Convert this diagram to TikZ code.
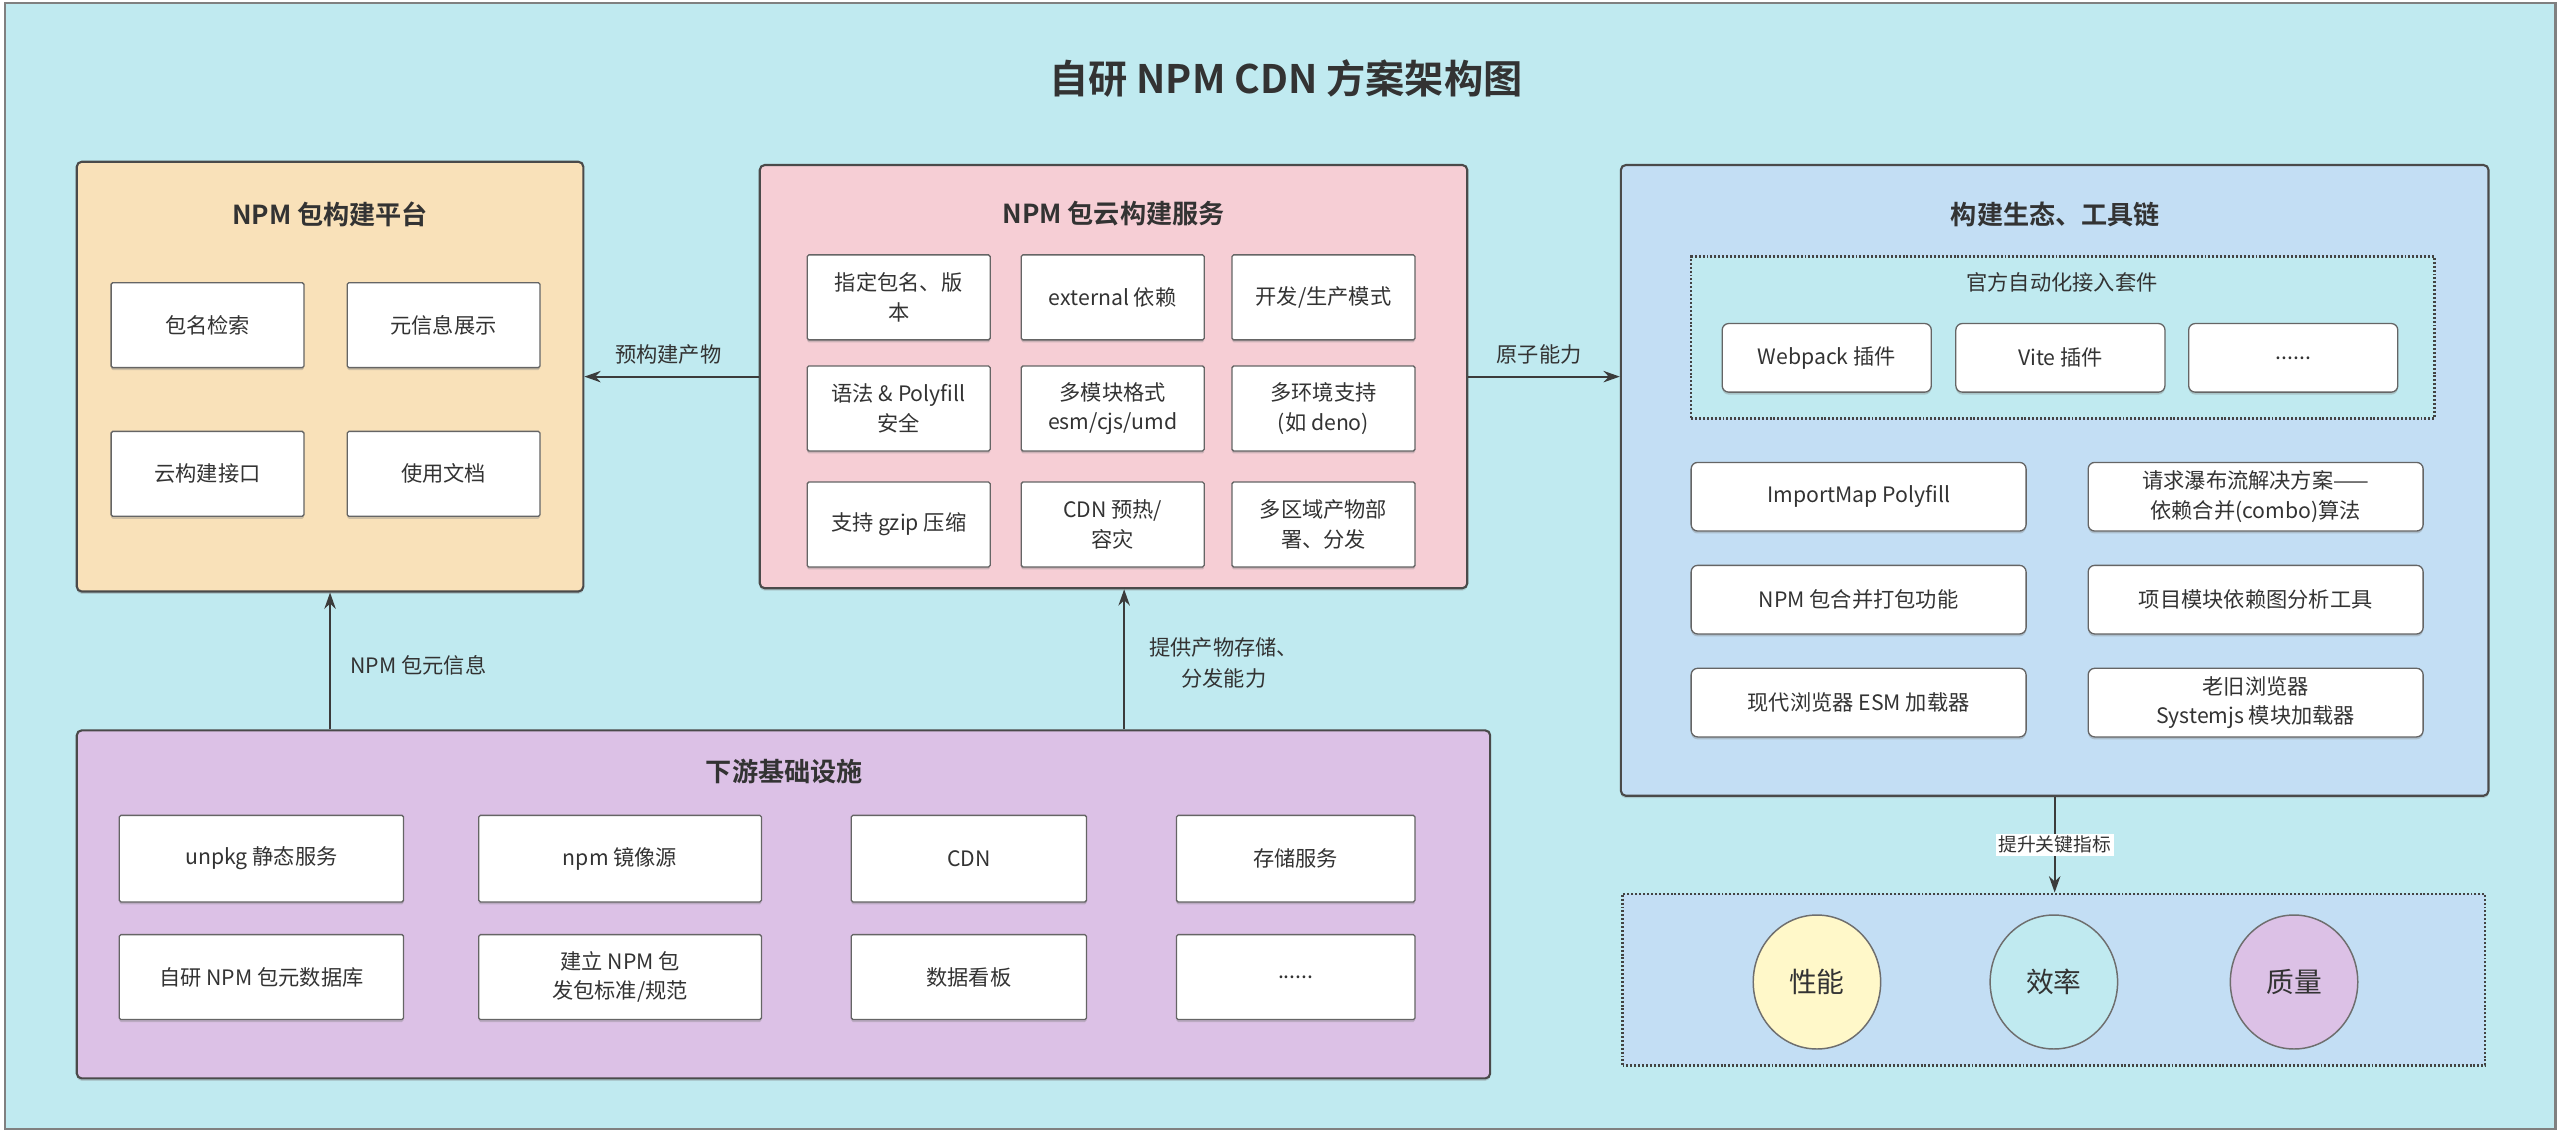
\documentclass[tikz,border=0pt]{standalone}
\usepackage{fontspec}
\setmainfont{Noto Sans CJK SC}[BoldFont={Noto Sans CJK SC Bold}]
\usepackage{tikz}
\usetikzlibrary{shapes.geometric, arrows.meta, positioning, calc, shadows}
\definecolor{SkyBg}{HTML}{C0EAF0}
\definecolor{Sand}{HTML}{F9E1B9}
\definecolor{Blush}{HTML}{F6CED5}
\definecolor{Azure}{HTML}{C3DEF4}
\definecolor{Lilac}{HTML}{DCC1E6}
\definecolor{Cream}{HTML}{FFF8C9}
\definecolor{InkGray}{HTML}{333333}
\definecolor{EdgeGray}{HTML}{4A4A4A}

\tikzset{
  panel/.style={draw=EdgeGray, line width=1.3pt, rounded corners=3pt,
    drop shadow={shadow xshift=0pt, shadow yshift=-1.5pt, opacity=0.3}},
  head/.style={text=InkGray, font=\bfseries\fontsize{16}{20}\selectfont},
  cell/.style={draw=EdgeGray!85, line width=0.8pt, fill=white, rounded corners=1pt,
    align=center, inner sep=2pt, text=InkGray, font=\fontsize{13}{18}\selectfont,
    drop shadow={shadow xshift=0pt, shadow yshift=-1.5pt, opacity=0.35}},
  toolcell/.style={cell, rounded corners=4pt},
  dotbox/.style={draw=EdgeGray!90!black, line width=1.5pt, dash pattern=on 1.2pt off 1.2pt},
  note/.style={text=InkGray, align=center, font=\fontsize{13}{19}\selectfont},
  link/.style={draw=EdgeGray!80!black, line width=1.2pt, -{Stealth[length=10pt,width=7pt]}},
  metric/.style={ellipse, draw=EdgeGray!80, line width=0.9pt, minimum width=78pt,
    minimum height=82pt, text=InkGray, font=\fontsize{17}{20}\selectfont},
}

\begin{document}
\begin{tikzpicture}[x=1pt, y=-1pt]
% canvas and frame
\useasboundingbox (0,0) rectangle (1568,694);
\fill[white] (0,0) rectangle (1568,694);
\draw[fill=SkyBg, draw=gray, line width=1.5pt] (3,2) rectangle (1564,691);

\node[text=InkGray, font=\bfseries\fontsize{24}{28}\selectfont] (title) at (787,48) {自研 NPM CDN 方案架构图};

% NPM package build platform
\node[panel, fill=Sand, minimum width=310pt, minimum height=263pt] (plat) at (202,230.5) {};
\node[head] (plat-head) at (202,131) {NPM 包构建平台};
\node[cell, minimum width=118pt, minimum height=52pt] (search) at (127,199) {包名检索};
\node[cell, minimum width=118pt, minimum height=52pt] (meta) at (271.5,199) {元信息展示};
\node[cell, minimum width=118pt, minimum height=52pt] (api) at (127,290) {云构建接口};
\node[cell, minimum width=118pt, minimum height=52pt] (docs) at (271.5,290) {使用文档};

% cloud build service
\node[panel, fill=Blush, minimum width=433pt, minimum height=259pt] (cloud) at (681.5,230.5) {};
\node[head] (cloud-head) at (681.5,131) {NPM 包云构建服务};
\tikzset{svc/.style={cell, minimum width=112pt, minimum height=52pt}}
\node[svc] (pin) at (550,182) {指定包名、版\\本};
\node[svc] (ext) at (681,182) {external 依赖};
\node[svc] (mode) at (810,182) {开发/生产模式};
\node[svc] (syntax) at (550,250) {语法 \& Polyfill\\安全};
\node[svc] (fmt) at (681,250) {多模块格式\\esm/cjs/umd};
\node[svc] (env) at (810,250) {多环境支持\\(如 deno)};
\node[svc] (gzip) at (550,321) {支持 gzip 压缩};
\node[svc] (warm) at (681,321) {CDN 预热/\\容灾};
\node[svc] (region) at (810,321) {多区域产物部\\署、分发};

% ecosystem and toolchain
\node[panel, fill=Azure, minimum width=531pt, minimum height=386pt] (eco) at (1257.5,294) {};
\node[head] (eco-head) at (1258,131) {构建生态、工具链};
\node[dotbox, fill=SkyBg, minimum width=455pt, minimum height=99pt] (kit) at (1262.5,206.5) {};
\node[note] (kit-head) at (1262,173) {官方自动化接入套件};
\node[toolcell, minimum width=128pt, minimum height=42pt] (webpack) at (1118,219) {Webpack 插件};
\node[toolcell, minimum width=128pt, minimum height=42pt] (vite) at (1261,219) {Vite 插件};
\node[toolcell, minimum width=128pt, minimum height=42pt] (more-kit) at (1403.5,219) {......};
\tikzset{tool/.style={toolcell, minimum width=205pt, minimum height=42pt}}
\node[tool] (importmap) at (1137.5,304) {ImportMap Polyfill};
\node[tool] (combo) at (1380.5,304) {请求瀑布流解决方案——\\依赖合并(combo)算法};
\node[tool] (bundle) at (1137.5,367) {NPM 包合并打包功能};
\node[tool] (graph) at (1380.5,367) {项目模块依赖图分析工具};
\node[tool] (esm) at (1137.5,430) {现代浏览器 ESM 加载器};
\node[tool] (legacy) at (1380.5,430) {老旧浏览器\\Systemjs 模块加载器};

% key metrics
\node[dotbox, fill=Azure, minimum width=528pt, minimum height=105pt] (metrics) at (1257,599.5) {};
\node[metric, fill=Cream] (perf) at (1112,601) {性能};
\node[metric, fill=SkyBg] (speed) at (1257,601) {效率};
\node[metric, fill=Lilac] (quality) at (1404,601) {质量};

% downstream infrastructure
\node[panel, fill=Lilac, minimum width=865pt, minimum height=213pt] (infra) at (479.5,553.5) {};
\node[head] (infra-head) at (480,472) {下游基础设施};
\node[cell, minimum width=174pt, minimum height=53pt] (unpkg) at (160,525.5) {unpkg 静态服务};
\node[cell, minimum width=173pt, minimum height=53pt] (mirror) at (379.5,525.5) {npm 镜像源};
\node[cell, minimum width=144pt, minimum height=53pt] (cdn) at (593,525.5) {CDN};
\node[cell, minimum width=146pt, minimum height=53pt] (store) at (793,525.5) {存储服务};
\node[cell, minimum width=174pt, minimum height=52pt] (db) at (160,598) {自研 NPM 包元数据库};
\node[cell, minimum width=173pt, minimum height=52pt] (spec) at (379.5,598) {建立 NPM 包\\发包标准/规范};
\node[cell, minimum width=144pt, minimum height=52pt] (board) at (593,598) {数据看板};
\node[cell, minimum width=146pt, minimum height=52pt] (more-infra) at (793,598) {......};

% connectors
\draw[link] (cloud.west) -- (plat.east);
\node[note] (prebuilt) at (409,217) {预构建产物};
\draw[link] (cloud.east) -- (cloud.east -| eco.west);
\node[note] (atomic) at (942,217) {原子能力};
\draw[link] (plat.south |- infra.north) -- (plat.south);
\node[note, anchor=west] (pkgmeta) at (211,407) {NPM 包元信息};
\coordinate (feed) at ($(cloud.south)+(6.5,0)$);
\draw[link] (feed |- infra.north) -- (feed);
\node[note] (storage) at (749,406) {提供产物存储、\\分发能力};
\draw[link] (eco.south) -- (eco.south |- metrics.north)
  node[midway, fill=white, inner sep=1.5pt, text=InkGray, font=\fontsize{11.5}{14}\selectfont] (boost) {提升关键指标};
\end{tikzpicture}
\end{document}
